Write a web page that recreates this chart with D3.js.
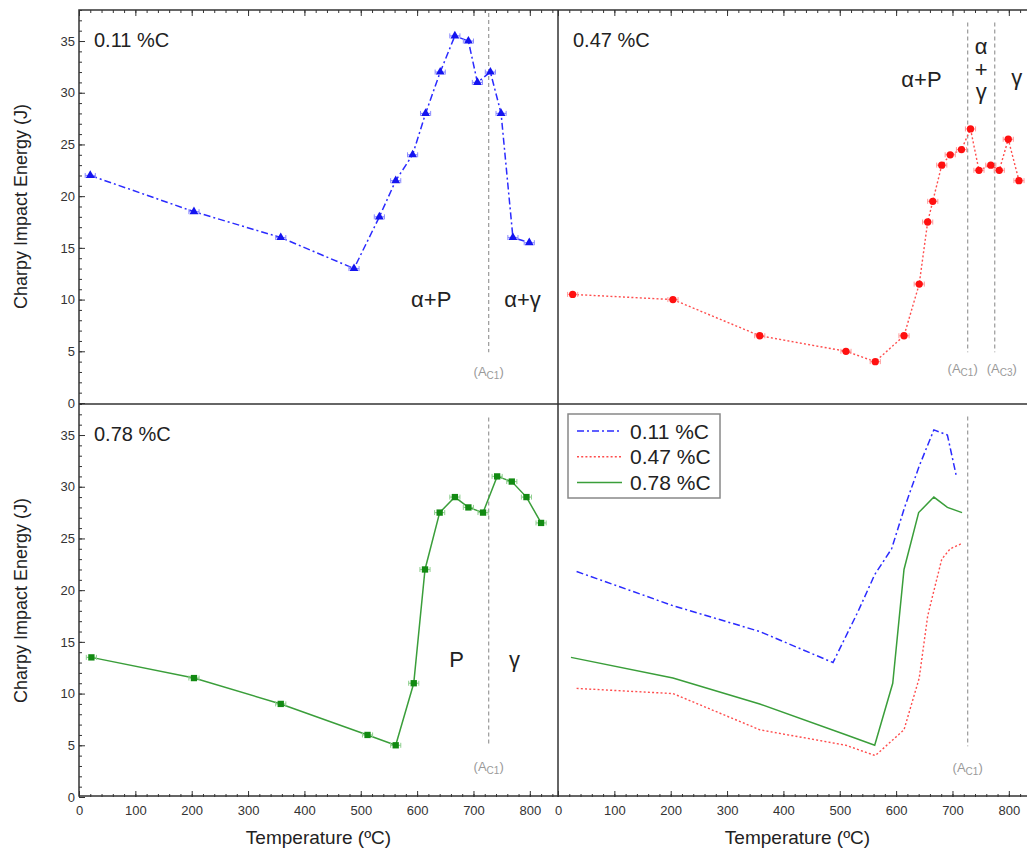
<!DOCTYPE html>
<html><head><meta charset="utf-8">
<script src="https://cdn.jsdelivr.net/npm/d3@7"></script>
<style>
body{margin:0;background:#fff}
svg{display:block;font-family:"Liberation Sans",Arial,Helvetica,sans-serif}
</style>
</head><body>
<svg id="c" width="1027" height="850"></svg>
<script>
// ---------- data ----------
const temp11   = [20,204,358,488,533,562,592,615,641,667,691,707,730,749,770,799];
const energy11 = [22,18.5,16,13,18,21.5,24,28,32,35.5,35,31,32,28,16,15.5];
const temp47   = [26,204,358,511,563,614,641,656,665,681,696,716,732,747,768,783,799,818];
const energy47 = [10.5,10,6.5,5,4,6.5,11.5,17.5,19.5,23,24,24.5,26.5,22.5,23,22.5,25.5,21.5];
const temp78   = [22,204,358,512,562,594,614,640,667,691,717,742,768,794,820];
const energy78 = [13.5,11.5,9,6,5,11,22,27.5,29,28,27.5,31,30.5,29,26.5];
// comparison panel (curves up to A_C1)
const cmpTemp11   = [33,204,358,488,533,562,592,615,641,667,691,707];
const cmpEnergy11 = [21.8,18.5,16,13,18,21.5,24,28,32,35.5,35,31];
const cmpTemp47   = [33,204,358,511,563,614,641,656,665,681,696,716];
const cmpEnergy47 = [10.5,10,6.5,5,4,6.5,11.5,17.5,19.5,23,24,24.5];
const cmpTemp78   = [23,204,358,512,562,594,614,640,667,691,717];
const cmpEnergy78 = [13.5,11.5,9,6,5,11,22,27.5,29,28,27.5];
const tempErr = 9;
const seriesNames = ["0.11 %C","0.47 %C","0.78 %C"];
const xTicks = [0,100,200,300,400,500,600,700,800];
const yTicks = [0,5,10,15,20,25,30,35];
const xMinor = d3.range(0,851,20);
const yMinor = d3.range(0,39,1);
const tA1 = 727, tA3 = 775;

// ---------- layout ----------
const svg = d3.select("#c");
const PW = 479, PH = 393;
const panels = {
  tl:{x0:79, y0:10}, tr:{x0:558, y0:10},
  bl:{x0:79, y0:404}, br:{x0:558, y0:404}
};
for (const k in panels){
  const p = panels[k];
  p.x = d3.scaleLinear().domain([0,850]).range([p.x0, p.x0+PW]);
  p.y = d3.scaleLinear().domain([0,38]).range([p.y0+PH, p.y0]);
}
const frameCol = "#333";
const styles = {
  s11:{line:"#2b2bff", mark:"#1414f0", err:"#8c8cff", dash:"7,3,2,3", w:1.5},
  s47:{line:"#ff4d4d", mark:"#ff1010", err:"#ff9a9a", dash:"2,2.2", w:1.4},
  s78:{line:"#3a9e3a", mark:"#128a12", err:"#8fcf8f", dash:null, w:1.5}
};

function clean(g){ g.select(".domain").remove(); g.selectAll("line").attr("stroke",frameCol); }

function axes(p, opts){
  if (opts.left){
    svg.append("g").attr("transform",`translate(${p.x0},0)`)
      .call(d3.axisLeft(p.y).tickValues(yMinor).tickSize(-3).tickFormat(""))
      .call(clean);
    const g = svg.append("g").attr("transform",`translate(${p.x0},0)`)
      .call(d3.axisLeft(p.y).tickValues(yTicks).tickSize(-6).tickPadding(4))
      .call(clean);
    g.selectAll("text").attr("font-size",13).attr("fill","#333");
  }
  if (opts.top){
    svg.append("g").attr("transform",`translate(0,${p.y0})`)
      .call(d3.axisTop(p.x).tickValues(xMinor).tickSize(-3).tickFormat(""))
      .call(clean);
    svg.append("g").attr("transform",`translate(0,${p.y0})`)
      .call(d3.axisTop(p.x).tickValues(xTicks).tickSize(-6).tickFormat(""))
      .call(clean);
  }
  if (opts.bottom){
    svg.append("g").attr("transform",`translate(0,${p.y0+PH})`)
      .call(d3.axisBottom(p.x).tickValues(xMinor).tickSize(-3).tickFormat(""))
      .call(clean);
    const g = svg.append("g").attr("transform",`translate(0,${p.y0+PH})`)
      .call(d3.axisBottom(p.x).tickValues(xTicks).tickSize(-6).tickPadding(9))
      .call(clean);
    g.selectAll("text").attr("font-size",13).attr("fill","#333");
  }
}
axes(panels.tl,{left:true, top:true});
axes(panels.tr,{top:true});
axes(panels.bl,{left:true, bottom:true});
axes(panels.br,{bottom:true});

// frame
const fr = svg.append("g").attr("stroke",frameCol).attr("stroke-width",1.5).attr("fill","none");
fr.append("rect").attr("x",79).attr("y",10).attr("width",PW*2).attr("height",PH*2);
fr.append("line").attr("x1",79).attr("x2",79+PW*2).attr("y1",404).attr("y2",404);
fr.append("line").attr("x1",558).attr("x2",558).attr("y1",10).attr("y2",797);

// vertical transformation lines
function vline(p, t, yTop, label, labelY, shift){
  svg.append("line").attr("x1",p.x(t)).attr("x2",p.x(t))
    .attr("y1",p.y(yTop)).attr("y2",p.y(4.9))
    .attr("stroke","#999").attr("stroke-width",1.2).attr("stroke-dasharray","4,3");
  const tx = svg.append("text").attr("x",p.x(t)+shift).attr("y",p.y(labelY))
    .attr("text-anchor","middle").attr("font-size",13).attr("fill","#9a9a9a");
  tx.append("tspan").text("(A");
  tx.append("tspan").attr("font-size",10).attr("dy",3).text(label);
  tx.append("tspan").attr("dy",-3).text(")");
}
vline(panels.tl, tA1, 37.7, "C1", 2.6, 0);
vline(panels.tr, tA1, 36.8, "C1", 2.9, -5);
vline(panels.tr, tA3, 36.8, "C3", 2.9, 7);
vline(panels.bl, tA1, 36.7, "C1", 2.5, 0);
vline(panels.br, tA1, 36.8, "C1", 2.4, 0);

// series
function series(p, T, E, st, symbol, withMarks){
  const pts = T.map((t,i)=>[t,E[i]]);
  const line = d3.line().x(d=>p.x(d[0])).y(d=>p.y(d[1]));
  const path = svg.append("path").datum(pts).attr("d",line)
    .attr("fill","none").attr("stroke",st.line).attr("stroke-width",st.w);
  if (st.dash) path.attr("stroke-dasharray",st.dash);
  if (!withMarks) return;
  const g = svg.append("g");
  g.selectAll(".eb").data(pts).join("line")
    .attr("x1",d=>p.x(d[0]-tempErr)).attr("x2",d=>p.x(d[0]+tempErr))
    .attr("y1",d=>p.y(d[1])).attr("y2",d=>p.y(d[1]))
    .attr("stroke",st.err).attr("stroke-width",1.2);
  g.selectAll(".cl").data(pts).join("line")
    .attr("x1",d=>p.x(d[0]-tempErr)).attr("x2",d=>p.x(d[0]-tempErr))
    .attr("y1",d=>p.y(d[1])-2.5).attr("y2",d=>p.y(d[1])+2.5)
    .attr("stroke",st.err).attr("stroke-width",1);
  g.selectAll(".cr").data(pts).join("line")
    .attr("x1",d=>p.x(d[0]+tempErr)).attr("x2",d=>p.x(d[0]+tempErr))
    .attr("y1",d=>p.y(d[1])-2.5).attr("y2",d=>p.y(d[1])+2.5)
    .attr("stroke",st.err).attr("stroke-width",1);
  g.selectAll("path").data(pts).join("path")
    .attr("transform",d=>`translate(${p.x(d[0])},${p.y(d[1])})`)
    .attr("d",d3.symbol().type(symbol.type).size(symbol.size))
    .attr("fill",st.mark);
}
series(panels.tl, temp11, energy11, styles.s11, {type:d3.symbolTriangle,size:34}, true);
series(panels.tr, temp47, energy47, styles.s47, {type:d3.symbolCircle,size:42}, true);
series(panels.bl, temp78, energy78, styles.s78, {type:d3.symbolSquare,size:40}, true);
series(panels.br, cmpTemp11, cmpEnergy11, styles.s11, null, false);
series(panels.br, cmpTemp47, cmpEnergy47, styles.s47, null, false);
series(panels.br, cmpTemp78, cmpEnergy78, styles.s78, null, false);

// panel labels
const lab = [[panels.tl,seriesNames[0]],[panels.tr,seriesNames[1]],[panels.bl,seriesNames[2]]];
lab.forEach(([p,t])=>{
  svg.append("text").attr("x",p.x0+15).attr("y",p.y0+37).attr("font-size",20).attr("fill","#222").text(t);
});

// phase labels
function phase(p, t, e, txt){
  svg.append("text").attr("x",p.x(t)).attr("y",p.y(e)).attr("dy","0.35em")
    .attr("text-anchor","middle").attr("font-size",22).attr("fill","#222").text(txt);
}
phase(panels.tl, 625, 10, "α+P");
phase(panels.tl, 787, 10, "α+γ");
phase(panels.tr, 645, 31.3, "α+P");
phase(panels.tr, 751, 34.5, "α");
phase(panels.tr, 751, 32.3, "+");
phase(panels.tr, 751, 30.1, "γ");
phase(panels.tr, 814, 31.5, "γ");
phase(panels.bl, 670, 13.3, "P");
phase(panels.bl, 773, 13.3, "γ");

// legend
const lg = svg.append("g");
lg.append("rect").attr("x",568).attr("y",414).attr("width",152).attr("height",84)
  .attr("fill","#fff").attr("stroke","#888").attr("stroke-width",1.5);
[styles.s11,styles.s47,styles.s78].forEach((st,i)=>{
  const yy = 431 + i*25.7;
  const l = lg.append("line").attr("x1",577).attr("x2",622).attr("y1",yy).attr("y2",yy)
    .attr("stroke",st.line).attr("stroke-width",st.w);
  if (st.dash) l.attr("stroke-dasharray",st.dash);
  lg.append("text").attr("x",630).attr("y",yy).attr("dy","0.36em")
    .attr("font-size",21).attr("fill","#222").text(seriesNames[i]);
});

// axis titles
[panels.tl, panels.bl].forEach(p=>{
  svg.append("text").attr("transform",`translate(27,${p.y0+PH/2}) rotate(-90)`)
    .attr("text-anchor","middle").attr("font-size",18).attr("fill","#222")
    .text("Charpy Impact Energy (J)");
});
[panels.bl, panels.br].forEach(p=>{
  svg.append("text").attr("x",p.x0+PW/2).attr("y",844)
    .attr("text-anchor","middle").attr("font-size",19).attr("fill","#222")
    .text("Temperature (ºC)");
});
</script>
</body></html>
